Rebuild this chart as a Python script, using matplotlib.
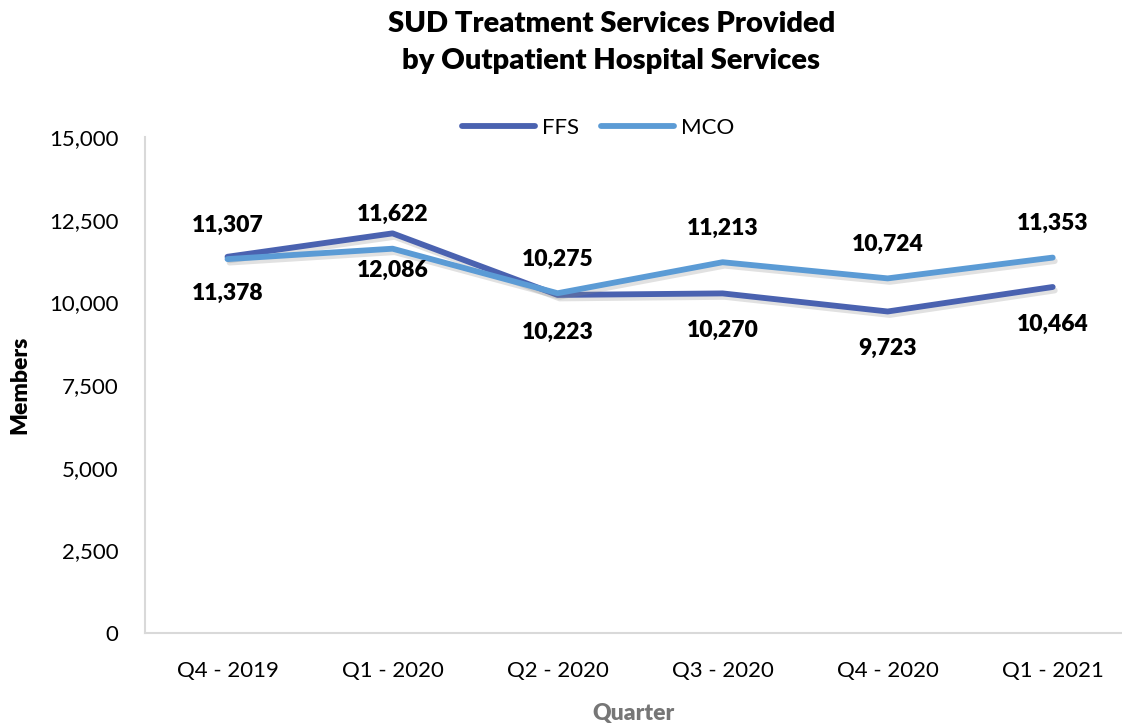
import matplotlib
matplotlib.use('Agg')
import matplotlib.pyplot as plt
import matplotlib.patheffects as pe

quarters = ['Q4 - 2019', 'Q1 - 2020', 'Q2 - 2020', 'Q3 - 2020', 'Q4 - 2020', 'Q1 - 2021']
ffs = [11378, 12086, 10223, 10270, 9723, 10464]
mco = [11307, 11622, 10275, 11213, 10724, 11353]

plt.rcParams['font.family'] = ['Lato', 'DejaVu Sans']

fig = plt.figure(figsize=(11.22, 7.26), dpi=100)
ax = fig.add_axes([145 / 1122, 1 - 633 / 726, (1122 - 145) / 1122, (633 - 137) / 726])

xs = list(range(len(quarters)))
shadow = [pe.SimpleLineShadow(offset=(1.5, -2.5), shadow_color='#888888', alpha=0.25, rho=0.6), pe.Normal()]
ax.plot(xs, ffs, color='#4A62B0', lw=4.2, label='FFS', solid_capstyle='round', path_effects=shadow)
ax.plot(xs, mco, color='#5B9BD5', lw=4.2, label='MCO', solid_capstyle='round', path_effects=shadow)

for x, v in zip(xs, mco):
    ax.annotate(f'{v:,}', (x, v), xytext=(0, 34), textcoords='offset pixels',
                ha='center', va='center', fontsize=16.5, fontweight='heavy', color='black')
for x, v in zip(xs, ffs):
    ax.annotate(f'{v:,}', (x, v), xytext=(0, -37), textcoords='offset pixels',
                ha='center', va='center', fontsize=16.5, fontweight='heavy', color='black')

ax.set_ylim(0, 15000)
ax.set_xlim(-0.5, 5.42)
ax.set_yticks(range(0, 15001, 2500))
ax.set_yticklabels([f'{t:,}' for t in range(0, 15001, 2500)])
ax.set_xticks(xs)
ax.set_xticklabels(quarters)
ax.tick_params(length=0, labelsize=16, pad=20)
ax.tick_params(axis='y', pad=19)
for s in ['top', 'right']:
    ax.spines[s].set_visible(False)
for s in ['left', 'bottom']:
    ax.spines[s].set_color('#D9D9D9')
    ax.spines[s].set_linewidth(1.5)

ax.set_ylabel('Members', fontsize=16.5, fontweight='heavy')
ax.yaxis.set_label_coords((30 - 145) / 977, 0.5)
ax.set_xlabel('Quarter', fontsize=16.5, fontweight='heavy', color='#767676', labelpad=16)

fig.suptitle('SUD Treatment Services Provided\nby Outpatient Hospital Services',
             fontsize=21, fontweight='heavy', y=0.985, x=0.545, linespacing=1.55)

leg = ax.legend(loc='center', bbox_to_anchor=((598 - 145) / 977, (633 - 128) / 496), ncol=2,
                frameon=False, fontsize=16, handlelength=3.3, columnspacing=1.0, handletextpad=0.3)
for h in leg.get_lines():
    h.set_path_effects([pe.Normal()])

fig.savefig('out.png', dpi=100)
